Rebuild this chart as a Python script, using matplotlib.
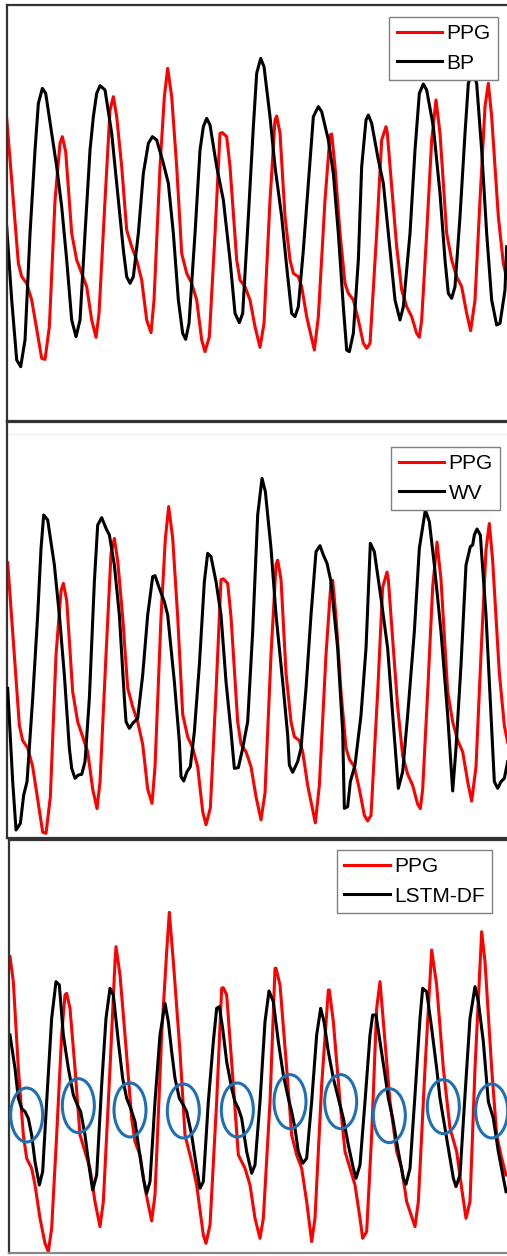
import matplotlib
matplotlib.use("Agg")
import matplotlib.pyplot as plt
from matplotlib.patches import Ellipse

plt.rcParams['font.family'] = ['Liberation Sans', 'DejaVu Sans']

# ---- panel 1: PPG vs BP (x = sample index, values in a.u.) ----
ppg_t = [20, 55, 65, 80, 95, 125, 135, 148, 165, 180, 187, 197, 215, 230, 245, 260, 275, 288, 297,
         315, 330, 340, 350, 365, 380, 395, 410, 425, 440, 453, 462, 480, 493, 503, 515, 530, 545,
         560, 575, 590, 605, 615, 628, 645, 660, 667, 680, 690, 710, 720, 735, 750, 765, 780, 792,
         810, 825, 830, 840, 855, 870, 880, 895, 905, 920, 943, 955, 975, 990, 995, 1005, 1020,
         1035, 1045, 1060, 1075, 1090, 1100, 1110, 1130, 1145, 1158, 1162, 1175, 1190, 1205, 1220,
         1235, 1250, 1258, 1265, 1280, 1295, 1308, 1320, 1340, 1355, 1370, 1385, 1400, 1412, 1425,
         1440, 1455, 1465, 1475, 1495, 1510, 1520]
ppg_v = [0.945, 0.510, 0.470, 0.450, 0.400, 0.225, 0.222, 0.320, 0.700, 0.870, 0.890, 0.845, 0.600,
         0.520, 0.480, 0.440, 0.340, 0.288, 0.360, 0.700, 0.970, 1.010, 0.950, 0.800, 0.610, 0.560,
         0.520, 0.460, 0.340, 0.302, 0.400, 0.800, 1.010, 1.095, 1.010, 0.800, 0.540, 0.480, 0.450,
         0.400, 0.280, 0.245, 0.290, 0.600, 0.900, 0.902, 0.890, 0.800, 0.520, 0.460, 0.440, 0.400,
         0.320, 0.258, 0.330, 0.700, 0.940, 0.952, 0.900, 0.650, 0.520, 0.480, 0.470, 0.440, 0.350,
         0.250, 0.350, 0.700, 0.895, 0.898, 0.800, 0.600, 0.450, 0.420, 0.400, 0.340, 0.270, 0.255,
         0.270, 0.600, 0.880, 0.920, 0.900, 0.740, 0.560, 0.430, 0.380, 0.350, 0.300, 0.288, 0.340,
         0.600, 0.880, 1.000, 0.900, 0.600, 0.520, 0.470, 0.440, 0.360, 0.308, 0.400, 0.700, 0.980,
         1.050, 0.950, 0.650, 0.510, 0.465]

bp_t = [20, 35, 50, 62, 75, 90, 105, 115, 127, 137, 155, 170, 185, 200, 215, 228, 240, 255, 270,
        280, 290, 300, 315, 335, 355, 370, 380, 390, 400, 415, 430, 445, 457, 470, 490, 505, 520,
        535, 548, 557, 567, 585, 600, 610, 620, 630, 650, 670, 690, 705, 718, 728, 745, 760, 770,
        782, 792, 810, 825, 845, 860, 875, 885, 895, 910, 925, 940, 955, 965, 985, 1000, 1015,
        1030, 1040, 1048, 1060, 1075, 1085, 1098, 1105, 1115, 1135, 1150, 1165, 1185, 1200, 1210,
        1230, 1245, 1258, 1270, 1280, 1300, 1320, 1335, 1345, 1355, 1365, 1380, 1395, 1405, 1418,
        1430, 1445, 1460, 1475, 1490, 1500, 1515, 1520]
bp_v = [0.620, 0.400, 0.220, 0.200, 0.280, 0.600, 0.850, 0.990, 1.035, 1.020, 0.900, 0.800, 0.680,
        0.520, 0.340, 0.290, 0.340, 0.600, 0.850, 0.950, 1.020, 1.043, 1.030, 0.900, 0.700, 0.550,
        0.470, 0.450, 0.470, 0.600, 0.780, 0.870, 0.890, 0.880, 0.810, 0.750, 0.600, 0.400, 0.300,
        0.282, 0.330, 0.600, 0.850, 0.920, 0.945, 0.925, 0.800, 0.700, 0.520, 0.360, 0.332, 0.360,
        0.650, 0.920, 1.080, 1.125, 1.100, 0.950, 0.800, 0.650, 0.500, 0.360, 0.350, 0.380, 0.550,
        0.750, 0.950, 0.980, 0.965, 0.880, 0.780, 0.600, 0.380, 0.250, 0.245, 0.300, 0.520, 0.800,
        0.940, 0.955, 0.930, 0.820, 0.750, 0.600, 0.400, 0.340, 0.380, 0.600, 0.850, 1.020, 1.048,
        1.030, 0.920, 0.720, 0.520, 0.420, 0.405, 0.440, 0.650, 0.900, 1.050, 1.085, 1.050, 0.850,
        0.600, 0.400, 0.325, 0.330, 0.430, 0.560]

# ---- panel 2: PPG vs WV ----
wv_t = [20, 35, 45, 58, 68, 78, 95, 110, 120, 128, 140, 160, 175, 190, 205, 212, 222, 232, 242, 252,
        265, 280, 290, 302, 315, 325, 340, 355, 370, 375, 385, 395, 410, 425, 440, 455, 462, 475,
        490, 500, 520, 535, 540, 548, 558, 568, 580, 595, 610, 620, 630, 645, 660, 675, 690, 700,
        712, 725, 740, 755, 770, 783, 793, 810, 825, 845, 860, 865, 875, 890, 900, 915, 930, 945,
        957, 967, 978, 990, 1010, 1025, 1030, 1040, 1048, 1062, 1080, 1095, 1108, 1120, 1140, 1160,
        1175, 1192, 1205, 1220, 1240, 1255, 1273, 1285, 1300, 1320, 1340, 1355, 1365, 1380, 1395,
        1408, 1415, 1420, 1428, 1438, 1455, 1470, 1480, 1490, 1500, 1510, 1520]
wv_v = [0.480, 0.200, 0.055, 0.075, 0.160, 0.200, 0.450, 0.700, 0.900, 1.000, 0.985, 0.850, 0.700,
        0.520, 0.300, 0.240, 0.210, 0.220, 0.222, 0.260, 0.450, 0.800, 0.970, 0.992, 0.960, 0.940,
        0.850, 0.700, 0.450, 0.380, 0.360, 0.375, 0.390, 0.520, 0.700, 0.815, 0.818, 0.780, 0.740,
        0.700, 0.500, 0.320, 0.215, 0.202, 0.230, 0.245, 0.350, 0.550, 0.800, 0.885, 0.875, 0.800,
        0.700, 0.500, 0.350, 0.240, 0.242, 0.300, 0.380, 0.650, 1.000, 1.110, 1.070, 0.900, 0.700,
        0.500, 0.340, 0.250, 0.228, 0.260, 0.300, 0.480, 0.700, 0.890, 0.908, 0.880, 0.855, 0.800,
        0.600, 0.350, 0.120, 0.125, 0.200, 0.250, 0.400, 0.600, 0.915, 0.890, 0.750, 0.600, 0.400,
        0.180, 0.230, 0.400, 0.650, 0.900, 1.015, 0.980, 0.850, 0.650, 0.400, 0.172, 0.300, 0.550,
        0.850, 0.905, 0.910, 0.940, 0.958, 0.940, 0.700, 0.400, 0.200, 0.180, 0.200, 0.210, 0.260]

# ---- panel 3: PPG vs LSTM-DF ----
ppg3_t = [30, 40, 55, 70, 80, 95, 105, 120, 135, 145, 155, 170, 185, 195, 200, 210, 225, 240, 255,
          270, 285, 300, 310, 330, 345, 348, 360, 375, 395, 405, 420, 435, 455, 465, 485, 500, 508,
          520, 540, 555, 575, 590, 610, 618, 630, 650, 665, 670, 680, 700, 715, 735, 750, 765, 780,
          790, 810, 825, 828, 840, 860, 875, 890, 905, 920, 935, 945, 965, 985, 988, 1000, 1020,
          1035, 1050, 1065, 1080, 1088, 1100, 1115, 1130, 1140, 1150, 1170, 1190, 1205, 1220, 1245,
          1255, 1275, 1295, 1310, 1330, 1350, 1370, 1385, 1398, 1410, 1425, 1445, 1455, 1475, 1490,
          1505, 1518]
ppg3_v = [0.935, 0.860, 0.600, 0.400, 0.330, 0.300, 0.250, 0.150, 0.075, 0.050, 0.120, 0.400, 0.700,
          0.820, 0.825, 0.780, 0.600, 0.400, 0.350, 0.300, 0.200, 0.125, 0.200, 0.600, 0.920, 0.965,
          0.880, 0.700, 0.450, 0.380, 0.340, 0.240, 0.142, 0.220, 0.700, 0.950, 1.068, 0.920, 0.650,
          0.400, 0.320, 0.250, 0.100, 0.075, 0.130, 0.500, 0.840, 0.842, 0.820, 0.550, 0.340, 0.300,
          0.250, 0.150, 0.090, 0.150, 0.500, 0.900, 0.900, 0.850, 0.600, 0.400, 0.340, 0.300, 0.200,
          0.080, 0.150, 0.550, 0.835, 0.835, 0.740, 0.500, 0.350, 0.300, 0.250, 0.150, 0.090, 0.110,
          0.400, 0.780, 0.860, 0.740, 0.500, 0.350, 0.300, 0.200, 0.125, 0.200, 0.600, 0.955, 0.850,
          0.600, 0.420, 0.350, 0.240, 0.150, 0.200, 0.600, 1.010, 0.920, 0.600, 0.400, 0.330, 0.280]

lstm_t = [30, 45, 55, 65, 75, 85, 95, 105, 118, 128, 140, 155, 168, 178, 190, 205, 220, 232, 242,
          255, 268, 278, 290, 305, 318, 330, 340, 355, 368, 380, 392, 405, 418, 430, 440, 450, 465,
          480, 495, 505, 515, 525, 538, 550, 560, 575, 590, 600, 610, 625, 640, 650, 658, 668, 680,
          695, 705, 715, 725, 740, 755, 765, 780, 795, 807, 820, 835, 850, 865, 875, 885, 895, 908,
          920, 935, 950, 962, 972, 985, 1000, 1015, 1030, 1045, 1060, 1068, 1080, 1095, 1110, 1118,
          1128, 1140, 1155, 1165, 1178, 1195, 1210, 1218, 1230, 1245, 1260, 1268, 1280, 1295, 1310,
          1320, 1330, 1345, 1360, 1368, 1380, 1395, 1410, 1425, 1435, 1450, 1465, 1480, 1495, 1518]
lstm_v = [0.700, 0.600, 0.510, 0.480, 0.470, 0.450, 0.400, 0.320, 0.250, 0.290, 0.500, 0.750, 0.860,
          0.850, 0.700, 0.600, 0.520, 0.490, 0.470, 0.400, 0.300, 0.235, 0.280, 0.550, 0.750, 0.840,
          0.820, 0.680, 0.570, 0.510, 0.480, 0.440, 0.350, 0.270, 0.225, 0.260, 0.500, 0.700, 0.795,
          0.740, 0.650, 0.570, 0.510, 0.490, 0.470, 0.400, 0.300, 0.240, 0.260, 0.500, 0.680, 0.780,
          0.785, 0.720, 0.620, 0.540, 0.500, 0.480, 0.450, 0.350, 0.285, 0.310, 0.500, 0.740, 0.832,
          0.800, 0.680, 0.580, 0.510, 0.470, 0.420, 0.350, 0.315, 0.330, 0.500, 0.700, 0.780, 0.740,
          0.650, 0.570, 0.510, 0.450, 0.370, 0.300, 0.270, 0.310, 0.500, 0.700, 0.760, 0.760, 0.680,
          0.580, 0.510, 0.450, 0.350, 0.270, 0.252, 0.300, 0.520, 0.750, 0.840, 0.830, 0.720, 0.600,
          0.510, 0.450, 0.360, 0.270, 0.245, 0.280, 0.520, 0.750, 0.845, 0.800, 0.680, 0.500, 0.450,
          0.350, 0.230]

# highlighted regions (dicrotic notch) in panel 3
circle_t = [80, 235, 390, 550, 712, 870, 1022, 1168, 1330, 1475]
circle_v = [0.460, 0.488, 0.475, 0.472, 0.475, 0.500, 0.500, 0.458, 0.485, 0.472]

W, H = 507, 1256
fig = plt.figure(figsize=(W / 100, H / 100), dpi=100)


def frame(ax):
    ax.set_xticks([])
    ax.set_yticks([])
    for s in ['left', 'top', 'bottom']:
        ax.spines[s].set_color('#333333')
        ax.spines[s].set_linewidth(1.6)
    ax.spines['right'].set_visible(False)


def add_legend(ax, handles, labels, x, y):
    leg = ax.legend(handles, labels, loc='upper right', bbox_to_anchor=(x, y), borderaxespad=0,
                    fontsize=15, handlelength=2.2, handletextpad=0.2, borderpad=0.35,
                    labelspacing=0.5, fancybox=False, framealpha=1, edgecolor='#808080')
    leg.get_frame().set_linewidth(1.0)
    return leg


lw = 2.2

# panel 1
ax1 = fig.add_axes([6.7 / W, (H - 421) / H, (W - 6.7) / W, 416 / H])
l1, = ax1.plot(ppg_t, ppg_v, color='#ff0000', lw=lw)
l2, = ax1.plot(bp_t, bp_v, color='black', lw=lw)
ax1.set_xlim(20, 1521)
ax1.set_ylim(0.037, 1.285)
frame(ax1)
add_legend(ax1, [l1, l2], ['PPG', 'BP'], 0.982, 0.971)

# panel 2 (PPG and WV on their own vertical scales)
ax2 = fig.add_axes([6.7 / W, (H - 838) / H, (W - 6.7) / W, 416 / H])
l1, = ax2.plot(ppg_t, ppg_v, color='#ff0000', lw=lw)
ax2.set_xlim(17, 1518)
ax2.set_ylim(0.2095, 1.3212)
ax2.plot([0, 1], [0.971, 0.971], color='#ececec', lw=0.8, transform=ax2.transAxes)
frame(ax2)
ax2w = ax2.twinx()
l2, = ax2w.plot(wv_t, wv_v, color='black', lw=lw)
ax2w.set_ylim(0.031, 1.279)
ax2w.set_yticks([])
for s in ax2w.spines.values():
    s.set_visible(False)
add_legend(ax2w, [l1, l2], ['PPG', 'WV'], 0.986, 0.940)

# panel 3
ax3 = fig.add_axes([9 / W, 2.7 / H, (W - 9) / W, 413.3 / H])
l1, = ax3.plot(ppg3_t, ppg3_v, color='#ff0000', lw=lw)
l2, = ax3.plot(lstm_t, lstm_v, color='black', lw=lw)
for ct, cv in zip(circle_t, circle_v):
    ax3.add_patch(Ellipse((ct, cv), width=96, height=0.162, fill=False,
                          edgecolor='#1f6fb5', lw=2.2, zorder=5))
ax3.set_xlim(27, 1521)
ax3.set_ylim(0.045, 1.285)
frame(ax3)
ax3.spines['bottom'].set_color('#888888')
add_legend(ax3, [l1, l2], ['PPG', 'LSTM-DF'], 0.970, 0.976)

fig.savefig('out.png', dpi=100)
